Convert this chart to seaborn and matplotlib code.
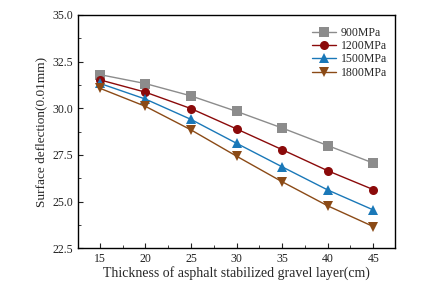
import pandas as pd
import numpy as np
import matplotlib
matplotlib.use("Agg")
import matplotlib.pyplot as plt
import seaborn as sns
from matplotlib.ticker import MultipleLocator

# Données
thickness = [15, 20, 25, 30, 35, 40, 45]
e_900 = [31.80, 31.32, 30.66, 29.83, 28.94, 28.00, 27.06]
e_1200 = [31.52, 30.86, 29.98, 28.89, 27.78, 26.65, 25.64]
e_1500 = [31.33, 30.49, 29.40, 28.12, 26.86, 25.62, 24.55]
e_1800 = [31.07, 30.10, 28.84, 27.43, 26.06, 24.77, 23.66]
labels = ["900MPa", "1200MPa", "1500MPa", "1800MPa"]

colors = ["#8c8c8c", "#8b0a0a", "#1a78b8", "#8b4a16"]
markers = ["s", "o", "^", "v"]

df = pd.concat([
    pd.DataFrame({"x": thickness, "y": vals, "serie": lab})
    for vals, lab in zip([e_900, e_1200, e_1500, e_1800], labels)
])

sns.set_style("ticks")
plt.rcParams["font.family"] = ["Liberation Serif", "DejaVu Serif"]

fig, ax = plt.subplots(figsize=(4.43, 2.92), dpi=100)
sns.lineplot(data=df, x="x", y="y", hue="serie", style="serie",
             palette=colors, markers=markers, dashes=False,
             markersize=6.5, markeredgewidth=0, linewidth=1.0, ax=ax)

ax.set_xlim(12.6, 47.4)
ax.set_ylim(22.5, 35.0)
ax.xaxis.set_major_locator(MultipleLocator(5))
ax.xaxis.set_minor_locator(MultipleLocator(2.5))
ax.yaxis.set_major_locator(MultipleLocator(2.5))
ax.yaxis.set_minor_locator(MultipleLocator(1.25))
ax.tick_params(direction="in", which="both", labelsize=8.5, colors="#222222")
ax.tick_params(which="major", length=3.5)
ax.tick_params(which="minor", length=2)
for s in ax.spines.values():
    s.set_visible(True)
    s.set_linewidth(1.0)
    s.set_color("black")

ax.set_xlabel("Thickness of asphalt stabilized gravel layer(cm)", fontsize=10, labelpad=1)
ax.set_ylabel("Surface deflection(0.01mm)", fontsize=9.5)

leg = ax.legend(frameon=False, fontsize=8.5, loc="upper right", bbox_to_anchor=(1.0, 0.985),
                handlelength=2.0, handletextpad=0.4, labelspacing=0.12, borderaxespad=0.3)

fig.subplots_adjust(left=0.176, right=0.892, top=0.949, bottom=0.15)
plt.savefig("out.png", dpi=100)
